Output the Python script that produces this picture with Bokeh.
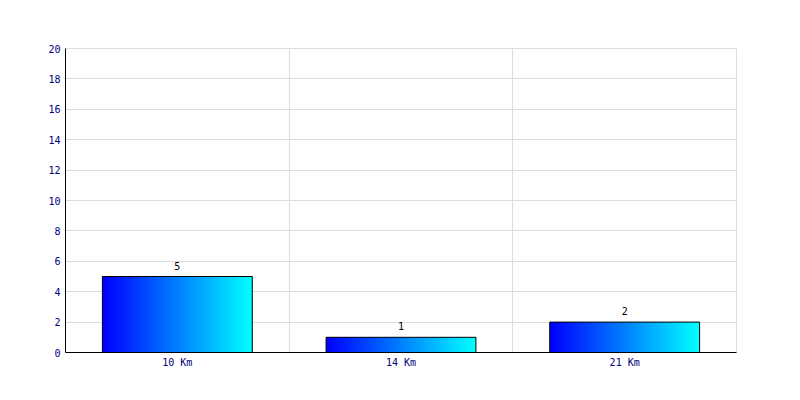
import numpy as np
from bokeh.plotting import figure
from bokeh.models import FixedTicker, Range1d, ColumnDataSource
from bokeh.embed import file_html
from bokeh.resources import INLINE
from bokeh.core.properties import value

categories = ["10 Km", "14 Km", "21 Km"]
counts = [5, 1, 2]
y_ticks = [0, 2, 4, 6, 8, 10, 12, 14, 16, 18, 20]

FONT = "DejaVu Sans Mono"
BAR_W = 0.67
N_SLICES = 100

p = figure(width=790, height=390, output_backend="svg", toolbar_location=None,
           x_range=Range1d(0, len(categories)), y_range=Range1d(0, 20),
           min_border_left=65, min_border_right=54, min_border_top=48, min_border_bottom=38)
p.outline_line_color = "#dddddd"
p.background_fill_color = "white"

# gradient slices built from the data
left, right, top, colors = [], [], [], []
for i, c in enumerate(counts):
    x0 = i + 0.5 - BAR_W / 2
    edges = np.linspace(x0, x0 + BAR_W, N_SLICES + 1)
    step = edges[1] - edges[0]
    for k in range(N_SLICES):
        t = k / (N_SLICES - 1)
        g = int(round(255 * t))
        left.append(edges[k])
        right.append(min(edges[k + 1] + step, x0 + BAR_W))
        top.append(c)
        colors.append("#%02x%02x%02x" % (0, g, 255))
p.quad(left=left, right=right, bottom=0, top=top, fill_color=colors, line_color=None)

xs = [i + 0.5 for i in range(len(categories))]
src = ColumnDataSource(dict(x=xs, top=counts, lab=[str(c) for c in counts]))
p.vbar(x="x", top="top", width=BAR_W, bottom=0, source=src, fill_color=None,
       line_color="black", line_width=1)
p.text(x="x", y="top", text="lab", source=src, text_align="center", text_baseline="alphabetic",
       y_offset=-11, text_font=value(FONT), text_font_size="10px", text_color="black")

p.xaxis.ticker = FixedTicker(ticks=xs)
p.xaxis.major_label_overrides = {x: c for x, c in zip(xs, categories)}
p.yaxis.ticker = FixedTicker(ticks=y_ticks)
for ax in (p.xaxis, p.yaxis):
    ax.major_tick_line_color = None
    ax.minor_tick_line_color = None
    ax.major_tick_out = 0
    ax.major_tick_in = 0
    ax.axis_line_color = "black"
    ax.major_label_text_font = FONT
    ax.major_label_text_font_size = "10px"
    ax.major_label_text_color = "#000080"
p.xaxis.major_label_standoff = 4
p.yaxis.major_label_standoff = 5

p.xgrid.ticker = FixedTicker(ticks=[1, 2, 3])
p.xgrid.grid_line_color = "#dddddd"
p.ygrid.grid_line_color = "#dddddd"

open("out.html", "w").write(file_html(p, INLINE))
